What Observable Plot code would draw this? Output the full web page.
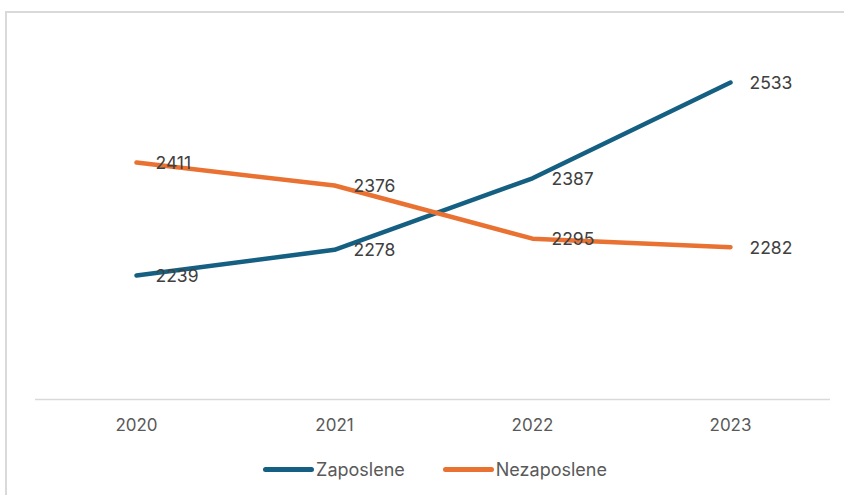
<!DOCTYPE html>
<html>
<head>
<meta charset="utf-8">
<script src="https://cdn.jsdelivr.net/npm/d3@7"></script>
<script src="https://cdn.jsdelivr.net/npm/@observablehq/plot@0.6"></script>
<style>
  html, body { margin: 0; padding: 0; background: #fff; overflow: hidden; }
  body { width: 844px; height: 495px; position: relative; font-family: Inter, "Open Sans", sans-serif; }
  #frame { position: absolute; left: 5px; top: 11px; width: 860px; height: 500px; border: 2px solid #d9d9d9; box-sizing: border-box; }
  #chart { position: absolute; left: 0; top: 0; }
  #legend { position: absolute; left: 0; top: 458px; width: 870px; height: 22px; display: flex; justify-content: center; align-items: center; font-size: 18px; color: #595959; }
  .item { display: flex; align-items: center; margin: 0 19px; }
  .sw { width: 51px; height: 5px; border-radius: 3px; margin-right: 2px; }
</style>
</head>
<body>
<div id="frame"></div>
<div id="chart"></div>
<div id="legend"></div>
<script>
const years = ["2020", "2021", "2022", "2023"];
const zaposlene = [2239, 2278, 2387, 2533];
const nezaposlene = [2411, 2376, 2295, 2282];
const seriesNames = ["Zaposlene", "Nezaposlene"];
const seriesColors = ["#156082", "#E97132"];

const data = [];
years.forEach((y, i) => {
  data.push({year: y, value: zaposlene[i], series: seriesNames[0]});
  data.push({year: y, value: nezaposlene[i], series: seriesNames[1]});
});

const chart = Plot.plot({
  width: 844,
  height: 444,
  marginLeft: 35,
  marginRight: 14,
  marginTop: 38,
  marginBottom: 45,
  style: { fontFamily: "Inter, 'Open Sans', sans-serif", background: "transparent", overflow: "visible" },
  x: { type: "point", domain: years, padding: 0.5, label: null },
  y: { domain: [2050, 2600], axis: null },
  color: { domain: seriesNames, range: seriesColors },
  marks: [
    Plot.ruleY([2050], { stroke: "#d9d9d9", strokeWidth: 1.5 }),
    Plot.axisX({ tickSize: 0, tickPadding: 19, fontSize: 17, fill: "#595959", label: null }),
    Plot.line(data, { x: "year", y: "value", z: "series", stroke: "series", strokeWidth: 4.5, strokeLinecap: "round", strokeLinejoin: "round" }),
    Plot.text(data, { x: "year", y: "value", text: d => String(d.value), textAnchor: "start", dx: 19, dy: 1, fontSize: 17.5, fill: "#404040" })
  ]
});
document.getElementById("chart").appendChild(chart);

const legend = document.getElementById("legend");
seriesNames.forEach((name, i) => {
  const item = document.createElement("div");
  item.className = "item";
  const sw = document.createElement("div");
  sw.className = "sw";
  sw.style.background = seriesColors[i];
  const label = document.createElement("span");
  label.textContent = name;
  item.appendChild(sw);
  item.appendChild(label);
  legend.appendChild(item);
});
</script>
</body>
</html>
